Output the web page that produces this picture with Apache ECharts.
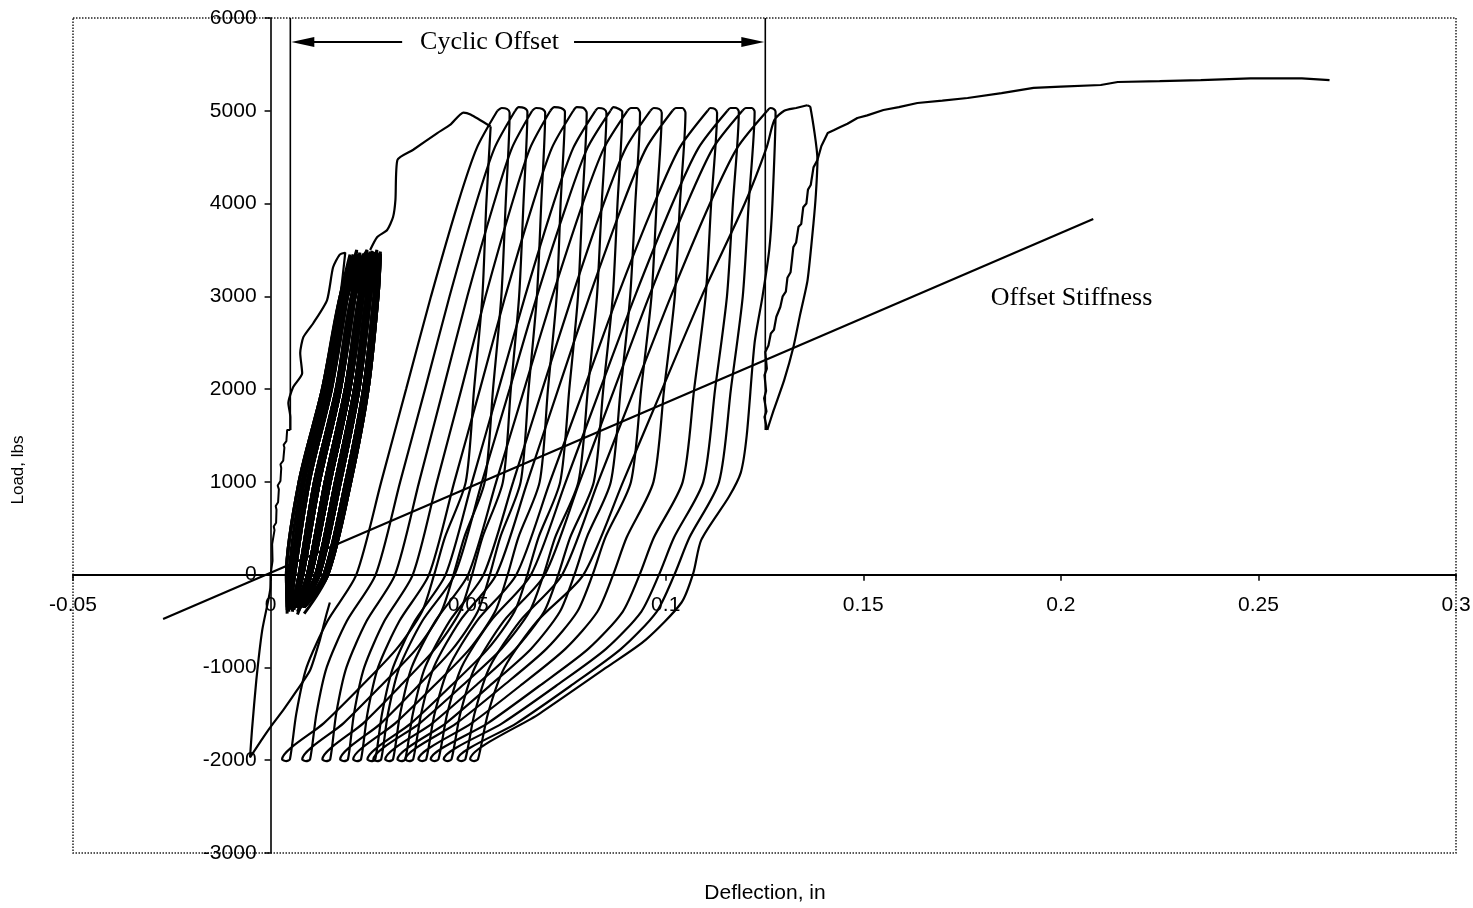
<!DOCTYPE html>
<html>
<head>
<meta charset="utf-8">
<script src="https://cdn.jsdelivr.net/npm/echarts@6/dist/echarts.min.js"></script>
<style>
  html, body { margin: 0; padding: 0; background: #fff; }
  #chart { width: 1473px; height: 908px; }
</style>
</head>
<body>
<div id="chart"></div>
<script>
// axis ranges / ticks
const xMin = -0.05, xMax = 0.3, xStep = 0.05;
const yMin = -3000, yMax = 6000, yStep = 1000;

// first push to the negative side, then back toward the cluster
const firstNegative = [[0,0],[-0.0001,-165],[-0.0021,-595],[-0.0036,-1135],[-0.0047,-1670],[-0.0052,-1970],
  [-0.0018,-1750],[0.0007,-1600],[0.0032,-1460],[0.0067,-1245],[0.0100,-1030],[0.0125,-700],[0.0140,-450],[0.0150,-300]];

// noisy initial loading near the axis
const initialJagged = [[0,0],[0.0005,150],[0.0004,330],[0.0009,350],[0.0010,480],[0.0008,520],[0.0014,560],[0.0015,700],
  [0.0013,740],[0.0019,780],[0.0021,920],[0.0018,960],[0.0025,1010],[0.0027,1150],[0.0025,1190],[0.0032,1230],
  [0.0035,1370],[0.0033,1400],[0.0040,1440],[0.0042,1560],[0.0050,1560]];

const initialLoad = [[0.0050,1560],[0.0050,1700],[0.0045,1850],[0.0057,2020],[0.0080,2170],[0.0075,2390],[0.0083,2560],
  [0.0108,2710],[0.0143,2960],[0.0158,3310],[0.0175,3450],[0.0189,3470],[0.0176,3000],[0.0131,2000],[0.0072,1000],[0.0040,0],[0.0042,-350]];

// small cycles (dense band)
const clusterLoops = [
  [[0.0064,-350],[0.0093,0],[0.0138,1000],[0.0189,2000],[0.0224,3000],[0.0235,3450],[0.0205,3000],[0.0166,2000],[0.0111,1000],[0.0072,0],[0.0055,-350]],
  [[0.0072,-350],[0.0114,0],[0.0164,1000],[0.0212,2000],[0.0243,3000],[0.0252,3480],[0.0214,3000],[0.0177,2000],[0.0124,1000],[0.0082,0],[0.0059,-350]],
  [[0.0076,-350],[0.0124,0],[0.0177,1000],[0.0224,2000],[0.0253,3000],[0.0261,3450],[0.0234,3000],[0.0201,2000],[0.0151,1000],[0.0103,0],[0.0068,-350]],
  [[0.0081,-350],[0.0135,0],[0.0190,1000],[0.0235,2000],[0.0262,3000],[0.0269,3500],[0.0243,3000],[0.0212,2000],[0.0164,1000],[0.0114,0],[0.0072,-350]],
  [[0.0085,-350],[0.0145,0],[0.0203,1000],[0.0247,2000],[0.0272,3000],[0.0278,3450],[0.0253,3000],[0.0224,2000],[0.0177,1000],[0.0124,0],[0.0076,-350]],
  [[0.0081,-350],[0.0135,0],[0.0190,1000],[0.0235,2000],[0.0262,3000],[0.0269,3450],[0.0234,3000],[0.0201,2000],[0.0151,1000],[0.0103,0],[0.0068,-350]],
  [[0.0076,-350],[0.0124,0],[0.0177,1000],[0.0224,2000],[0.0253,3000],[0.0261,3450],[0.0224,3000],[0.0189,2000],[0.0138,1000],[0.0093,0],[0.0064,-350]],
  [[0.0068,-350],[0.0103,0],[0.0151,1000],[0.0201,2000],[0.0234,3000],[0.0244,3500],[0.0195,3000],[0.0154,2000],[0.0098,1000],[0.0061,0],[0.0051,-350]],
  [[0.0059,-350],[0.0082,0],[0.0124,1000],[0.0177,2000],[0.0214,3000],[0.0226,3450],[0.0186,3000],[0.0143,2000],[0.0085,1000],[0.0051,0],[0.0046,-350]],
  [[0.0064,-350],[0.0093,0],[0.0138,1000],[0.0189,2000],[0.0224,3000],[0.0235,3450],[0.0195,3000],[0.0154,2000],[0.0098,1000],[0.0061,0],[0.0051,-350]],
  [[0.0072,-350],[0.0114,0],[0.0164,1000],[0.0212,2000],[0.0243,3000],[0.0252,3450],[0.0224,3000],[0.0189,2000],[0.0138,1000],[0.0093,0],[0.0064,-350]],
  [[0.0085,-350],[0.0145,0],[0.0203,1000],[0.0247,2000],[0.0272,3000],[0.0278,3460],[0.0262,3000],[0.0235,2000],[0.0190,1000],[0.0135,0],[0.0081,-350]],
  [[0.0068,-350],[0.0103,0],[0.0151,1000],[0.0201,2000],[0.0234,3000],[0.0244,3450],[0.0205,3000],[0.0166,2000],[0.0111,1000],[0.0072,0],[0.0055,-350]],
  [[0.0055,-350],[0.0072,0],[0.0111,1000],[0.0166,2000],[0.0205,3000],[0.0218,3450],[0.0176,3000],[0.0131,2000],[0.0072,1000],[0.0040,0],[0.0042,-350]],
  [[0.0081,-350],[0.0135,0],[0.0190,1000],[0.0235,2000],[0.0262,3000],[0.0269,3450],[0.0214,3000],[0.0177,2000],[0.0124,1000],[0.0082,0],[0.0059,-350]],
  [[0.0051,-380],[0.0061,0],[0.0098,1000],[0.0154,2000],[0.0195,3000],[0.0209,3450],[0.0176,3000],[0.0131,2000],[0.0072,1000],[0.0040,0],[0.0042,-420]],
  [[0.0059,-350],[0.0082,0],[0.0124,1000],[0.0177,2000],[0.0214,3000],[0.0226,3470],[0.0195,3000],[0.0154,2000],[0.0098,1000],[0.0061,0],[0.0051,-350]],
  [[0.0068,-400],[0.0103,0],[0.0151,1000],[0.0201,2000],[0.0234,3000],[0.0244,3450],[0.0214,3000],[0.0177,2000],[0.0124,1000],[0.0082,0],[0.0059,-380]],
  [[0.0076,-350],[0.0124,0],[0.0177,1000],[0.0224,2000],[0.0253,3000],[0.0261,3480],[0.0243,3000],[0.0212,2000],[0.0164,1000],[0.0114,0],[0.0072,-350]],
  [[0.0085,-420],[0.0145,0],[0.0203,1000],[0.0247,2000],[0.0272,3000],[0.0278,3450],[0.0234,3000],[0.0201,2000],[0.0151,1000],[0.0103,0],[0.0068,-430]],
  [[0.0055,-350],[0.0072,0],[0.0111,1000],[0.0166,2000],[0.0205,3000],[0.0218,3500],[0.0186,3000],[0.0143,2000],[0.0085,1000],[0.0051,0],[0.0046,-350]],
  [[0.0072,-380],[0.0114,0],[0.0164,1000],[0.0212,2000],[0.0243,3000],[0.0252,3450],[0.0205,3000],[0.0166,2000],[0.0111,1000],[0.0072,0],[0.0055,-400]],
  [[0.0081,-350],[0.0135,0],[0.0190,1000],[0.0235,2000],[0.0262,3000],[0.0269,3450],[0.0253,3000],[0.0224,2000],[0.0177,1000],[0.0124,0],[0.0076,-350]],
  [[0.0064,-350],[0.0093,0],[0.0138,1000],[0.0189,2000],[0.0224,3000],[0.0235,3460],[0.0214,3000],[0.0177,2000],[0.0124,1000],[0.0082,0],[0.0059,-350]],
  [[0.0046,-400],[0.0051,0],[0.0085,1000],[0.0143,2000],[0.0186,3000],[0.0201,3450],[0.0176,3000],[0.0131,2000],[0.0072,1000],[0.0040,0],[0.0042,-380]],
  [[0.0085,-350],[0.0145,0],[0.0203,1000],[0.0247,2000],[0.0272,3000],[0.0278,3480],[0.0243,3000],[0.0212,2000],[0.0164,1000],[0.0114,0],[0.0072,-350]],
  [[0.0068,-350],[0.0103,0],[0.0151,1000],[0.0201,2000],[0.0234,3000],[0.0244,3450],[0.0224,3000],[0.0189,2000],[0.0138,1000],[0.0093,0],[0.0064,-350]],
  [[0.0083,-350],[0.0140,0],[0.0197,1000],[0.0241,2000],[0.0267,3000],[0.0274,3460],[0.0229,3000],[0.0195,2000],[0.0145,1000],[0.0098,0],[0.0066,-350]],
  [[0.0074,-350],[0.0119,0],[0.0171,1000],[0.0218,2000],[0.0248,3000],[0.0257,3450],[0.0210,3000],[0.0172,2000],[0.0118,1000],[0.0077,0],[0.0057,-350]],
  [[0.0066,-350],[0.0098,0],[0.0145,1000],[0.0195,2000],[0.0229,3000],[0.0240,3470],[0.0191,3000],[0.0149,2000],[0.0092,1000],[0.0056,0],[0.0049,-350]],
  [[0.0057,-350],[0.0077,0],[0.0118,1000],[0.0172,2000],[0.0210,3000],[0.0222,3450],[0.0181,3000],[0.0137,2000],[0.0079,1000],[0.0046,0],[0.0044,-350]],
  [[0.0083,-350],[0.0140,0],[0.0197,1000],[0.0241,2000],[0.0267,3000],[0.0274,3450],[0.0248,3000],[0.0218,2000],[0.0171,1000],[0.0119,0],[0.0074,-350]],
  [[0.0074,-350],[0.0119,0],[0.0171,1000],[0.0218,2000],[0.0248,3000],[0.0257,3490],[0.0229,3000],[0.0195,2000],[0.0145,1000],[0.0098,0],[0.0066,-350]]
];

// first large excursion out of the cluster
const firstBigLoad = [[0.0252,3500],[0.0270,3640],[0.0295,3715],[0.0310,3855],[0.0316,4040],[0.0321,4470],[0.0361,4580],
  [0.0422,4760],[0.0455,4850],[0.0488,4980],[0.0506,4960],[0.0557,4830]];

// large cycles: unload to -2000, reload to next peak
const cycles = [
  [[0.0557,4830],[0.0546,4000],[0.0536,3000],[0.0515,2000],[0.0494,1000],[0.0441,400],[0.0414,0],[0.0383,-400],[0.0319,-800],[0.0230,-1200],[0.0135,-1600],[0.0029,-1990],[0.0040,-2010],[0.0049,-1990],[0.0065,-1500],[0.0091,-1000],[0.0144,-500],[0.0217,0],[0.0280,1000],[0.0343,2000],[0.0406,3000],[0.0474,4000],[0.0522,4600],[0.0574,5000]],
  [[0.0574,5000],[0.0585,5030],[0.0598,5020],[0.0605,4980],[0.0595,4000],[0.0584,3000],[0.0563,2000],[0.0542,1000],[0.0490,400],[0.0463,0],[0.0432,-400],[0.0369,-800],[0.0279,-1200],[0.0185,-1600],[0.0080,-1990],[0.0090,-2010],[0.0100,-1990],[0.0116,-1500],[0.0142,-1000],[0.0193,-500],[0.0266,0],[0.0328,1000],[0.0391,2000],[0.0453,3000],[0.0520,4000],[0.0567,4600],[0.0619,5000]],
  [[0.0619,5000],[0.0628,5040],[0.0642,5030],[0.0650,4990],[0.0640,4000],[0.0629,3000],[0.0608,2000],[0.0588,1000],[0.0536,400],[0.0510,0],[0.0479,-400],[0.0416,-800],[0.0328,-1200],[0.0235,-1600],[0.0131,-1990],[0.0141,-2010],[0.0151,-1990],[0.0166,-1500],[0.0192,-1000],[0.0243,-500],[0.0315,0],[0.0376,1000],[0.0437,2000],[0.0498,3000],[0.0565,4000],[0.0611,4600],[0.0662,5000]],
  [[0.0662,5000],[0.0672,5030],[0.0688,5020],[0.0695,4980],[0.0685,4000],[0.0674,3000],[0.0653,2000],[0.0633,1000],[0.0581,400],[0.0555,0],[0.0524,-400],[0.0461,-800],[0.0373,-1200],[0.0280,-1600],[0.0176,-1990],[0.0186,-2010],[0.0196,-1990],[0.0211,-1500],[0.0237,-1000],[0.0288,-500],[0.0360,0],[0.0421,1000],[0.0483,2000],[0.0544,3000],[0.0611,4000],[0.0657,4600],[0.0708,5000]],
  [[0.0708,5000],[0.0718,5040],[0.0735,5030],[0.0745,4990],[0.0734,4000],[0.0724,3000],[0.0702,2000],[0.0681,1000],[0.0627,400],[0.0600,0],[0.0568,-400],[0.0504,-800],[0.0413,-1200],[0.0316,-1600],[0.0209,-1990],[0.0219,-2010],[0.0229,-1990],[0.0245,-1500],[0.0272,-1000],[0.0326,-500],[0.0401,0],[0.0465,1000],[0.0530,2000],[0.0594,3000],[0.0664,4000],[0.0712,4600],[0.0766,5000]],
  [[0.0766,5000],[0.0775,5040],[0.0792,5030],[0.0800,4980],[0.0789,4000],[0.0778,3000],[0.0756,2000],[0.0733,1000],[0.0678,400],[0.0650,0],[0.0617,-400],[0.0550,-800],[0.0456,-1200],[0.0356,-1600],[0.0245,-1990],[0.0255,-2010],[0.0265,-1990],[0.0282,-1500],[0.0310,-1000],[0.0365,-500],[0.0443,0],[0.0510,1000],[0.0577,2000],[0.0644,3000],[0.0716,4000],[0.0766,4600],[0.0822,5000]],
  [[0.0822,5000],[0.0830,5030],[0.0843,5020],[0.0850,4980],[0.0838,4000],[0.0826,3000],[0.0803,2000],[0.0779,1000],[0.0720,400],[0.0691,0],[0.0655,-400],[0.0584,-800],[0.0484,-1200],[0.0378,-1600],[0.0260,-1990],[0.0270,-2010],[0.0280,-1990],[0.0297,-1500],[0.0326,-1000],[0.0384,-500],[0.0466,0],[0.0535,1000],[0.0605,2000],[0.0674,3000],[0.0750,4000],[0.0802,4600],[0.0860,5000]],
  [[0.0860,5000],[0.0868,5040],[0.0882,5020],[0.0890,4990],[0.0878,4000],[0.0866,3000],[0.0842,2000],[0.0818,1000],[0.0758,400],[0.0728,0],[0.0692,-400],[0.0620,-800],[0.0518,-1200],[0.0410,-1600],[0.0290,-1990],[0.0300,-2010],[0.0310,-1990],[0.0328,-1500],[0.0357,-1000],[0.0417,-500],[0.0500,0],[0.0571,1000],[0.0642,2000],[0.0713,3000],[0.0790,4000],[0.0844,4600],[0.0903,5000]],
  [[0.0903,5000],[0.0912,5030],[0.0927,5030],[0.0935,4980],[0.0923,4000],[0.0910,3000],[0.0886,2000],[0.0861,1000],[0.0800,400],[0.0769,0],[0.0732,-400],[0.0659,-800],[0.0554,-1200],[0.0444,-1600],[0.0321,-1990],[0.0331,-2010],[0.0341,-1990],[0.0360,-1500],[0.0391,-1000],[0.0453,-500],[0.0539,0],[0.0614,1000],[0.0688,2000],[0.0763,3000],[0.0843,4000],[0.0899,4600],[0.0961,5000]],
  [[0.0961,5000],[0.0970,5030],[0.0983,5020],[0.0990,4980],[0.0977,4000],[0.0964,3000],[0.0938,2000],[0.0912,1000],[0.0847,400],[0.0815,0],[0.0776,-400],[0.0698,-800],[0.0588,-1200],[0.0471,-1600],[0.0341,-1990],[0.0351,-2010],[0.0361,-1990],[0.0381,-1500],[0.0413,-1000],[0.0479,-500],[0.0571,0],[0.0650,1000],[0.0728,2000],[0.0807,3000],[0.0892,4000],[0.0951,4600],[0.1017,5000]],
  [[0.1017,5000],[0.1026,5030],[0.1042,5030],[0.1050,4980],[0.1036,4000],[0.1023,3000],[0.0996,2000],[0.0969,1000],[0.0901,400],[0.0867,0],[0.0827,-400],[0.0746,-800],[0.0631,-1200],[0.0509,-1600],[0.0374,-1990],[0.0384,-2010],[0.0394,-1990],[0.0415,-1500],[0.0451,-1000],[0.0522,-500],[0.0622,0],[0.0707,1000],[0.0793,2000],[0.0878,3000],[0.0971,4000],[0.1035,4600],[0.1106,5000]],
  [[0.1106,5000],[0.1113,5030],[0.1124,5020],[0.1130,4980],[0.1115,4000],[0.1101,3000],[0.1072,2000],[0.1043,1000],[0.0970,400],[0.0934,0],[0.0891,-400],[0.0804,-800],[0.0680,-1200],[0.0550,-1600],[0.0405,-1990],[0.0415,-2010],[0.0425,-1990],[0.0447,-1500],[0.0483,-1000],[0.0557,-500],[0.0659,0],[0.0747,1000],[0.0834,2000],[0.0922,3000],[0.1017,4000],[0.1083,4600],[0.1156,5000]],
  [[0.1156,5000],[0.1164,5030],[0.1178,5030],[0.1185,4990],[0.1170,4000],[0.1155,3000],[0.1125,2000],[0.1095,1000],[0.1021,400],[0.0983,0],[0.0938,-400],[0.0849,-800],[0.0722,-1200],[0.0587,-1600],[0.0438,-1990],[0.0448,-2010],[0.0458,-1990],[0.0480,-1500],[0.0517,-1000],[0.0590,-500],[0.0694,0],[0.0782,1000],[0.0870,2000],[0.0958,3000],[0.1054,4000],[0.1120,4600],[0.1194,5000]],
  [[0.1194,5000],[0.1203,5030],[0.1218,5030],[0.1225,4990],[0.1210,4000],[0.1195,3000],[0.1165,2000],[0.1135,1000],[0.1060,400],[0.1022,0],[0.0977,-400],[0.0887,-800],[0.0759,-1200],[0.0623,-1600],[0.0473,-1990],[0.0483,-2010],[0.0493,-1990],[0.0516,-1500],[0.0554,-1000],[0.0631,-500],[0.0738,0],[0.0829,1000],[0.0921,2000],[0.1013,3000],[0.1112,4000],[0.1181,4600],[0.1257,5000]],
  [[0.1257,5000],[0.1265,5030],[0.1273,5020],[0.1278,4990],[0.1270,4000],[0.1262,3500],[0.1245,3000],[0.1225,2500],[0.1205,1500],[0.1190,1100],[0.1160,840],[0.1090,375],[0.1070,20],[0.1040,-300],[0.0950,-700],[0.0850,-1000],[0.0680,-1500],[0.0505,-1990],[0.0515,-2010],[0.0525,-1990],[0.0550,-1500],[0.0592,-1000],[0.0675,-500],[0.0792,0],[0.0892,1000],[0.0991,2000],[0.1091,3000],[0.1200,4000],[0.1255,4600],[0.1275,4900],[0.1300,5000],[0.1330,5030],[0.1358,5060]]
];

const finalUnload = [[0.1358,5060],[0.1366,5040],[0.1384,4470],[0.1380,4100],[0.1374,3790],[0.1359,3175],[0.1340,2800],
  [0.1323,2450],[0.1300,2100],[0.1273,1770],[0.1257,1560]];

// noisy reload and monotonic push to failure
const finalCurve = [[0.1257,1560],[0.1250,1700],[0.1255,1760],[0.1249,1900],[0.1254,1980],[0.1250,2150],[0.1256,2220],
  [0.1252,2400],[0.1260,2470],[0.1266,2600],[0.1274,2640],[0.1280,2780],[0.1290,2885],[0.1296,3000],[0.1304,3050],
  [0.1308,3200],[0.1316,3260],[0.1323,3530],[0.1330,3580],[0.1336,3750],[0.1343,3780],[0.1348,3960],[0.1356,4000],
  [0.1360,4150],[0.1367,4200],[0.1374,4390],[0.1384,4470],[0.1394,4620],[0.1410,4760],[0.1425,4790],[0.1442,4825],
  [0.1460,4860],[0.1485,4922],[0.1510,4950],[0.1551,5008],[0.1590,5040],[0.1637,5084],[0.1700,5110],[0.1764,5138],
  [0.1850,5190],[0.1931,5246],[0.2000,5260],[0.2101,5278],[0.2144,5310],[0.2250,5320],[0.2354,5331],[0.2480,5350],
  [0.2610,5350],[0.2680,5330]];

const stiffnessLine = [[-0.0272,-478],[0.2082,3834]];
const offsetLeft = [[0.0050,1560],[0.0050,6000]];
const offsetRight = [[0.1252,1560],[0.1252,6000]];
const arrowY = 5740;

function path(points, width, smooth) {
  return {
    type: 'line',
    data: points,
    symbol: 'none',
    smooth: smooth || false,
    lineStyle: { color: '#000', width: width },
    silent: true,
    animation: false
  };
}

const chart = echarts.init(document.getElementById('chart'), null, { renderer: 'canvas' });

const series = [];
series.push(path(firstNegative, 2.2, 0.2));
series.push(path(initialJagged, 2));
series.push(path(initialLoad, 2.2, 0.2));
clusterLoops.forEach(function (loop) { series.push(path(loop, 3, 0.3)); });
series.push(path(firstBigLoad, 2.2, 0.2));
cycles.forEach(function (c) { series.push(path(c, 2.2, 0.25)); });
series.push(path(finalUnload, 2.2, 0.2));
series.push(path(finalCurve, 2.2));
series.push(path(stiffnessLine, 2.2));
series.push(path(offsetLeft, 1.6));
series.push(path(offsetRight, 1.6));

const labelFont = { color: '#000', fontFamily: 'Liberation Sans, Arial, sans-serif', fontSize: 21 };

// grid is 73..1456 x 18..853; the axes sit on the zero lines
const gridH = 835, gridW = 1383;
const xAxisOffset = -gridH * (0 - yMin) / (yMax - yMin);
const yAxisOffset = -gridW * (0 - xMin) / (xMax - xMin);

chart.setOption({
  backgroundColor: '#fff',
  animation: false,
  grid: { left: 73, right: 17, top: 18, bottom: 55, outerBoundsMode: 'none' },
  xAxis: {
    type: 'value', min: xMin, max: xMax, interval: xStep,
    offset: xAxisOffset,
    axisLine: { onZero: false, lineStyle: { color: '#000', width: 2 } },
    axisTick: { show: true, length: 6, lineStyle: { color: '#000', width: 1.5 } },
    splitLine: { show: false },
    axisLabel: Object.assign({ margin: 20, formatter: function (v) { return String(+v.toFixed(2)); } }, labelFont)
  },
  yAxis: {
    type: 'value', min: yMin, max: yMax, interval: yStep,
    offset: yAxisOffset,
    axisLine: { onZero: false, lineStyle: { color: '#000', width: 1.6 } },
    axisTick: { show: true, length: 6, lineStyle: { color: '#000', width: 1.5 } },
    splitLine: { show: false },
    axisLabel: Object.assign({ margin: 14, formatter: function (v) { return String(v); } }, labelFont)
  },
  series: series
});

// annotations placed from data coordinates
const px = function (x, y) { return chart.convertToPixel({ gridIndex: 0 }, [x, y]); };
const aL = px(0.0050, arrowY), aLend = px(0.0333, arrowY);
const aR = px(0.1252, arrowY), aRstart = px(0.0768, arrowY);
const cyc = px(0.0554, arrowY);
const stiff = px(0.2027, 2982);

chart.setOption({
  graphic: [
    { type: 'rect', silent: true, shape: { x: 73, y: 18, width: 1383, height: 835 },
      style: { fill: null, stroke: '#222', lineWidth: 1.5, lineDash: [1.5, 1.5] } },
    { type: 'line', shape: { x1: aL[0] + 20, y1: aL[1], x2: aLend[0], y2: aLend[1] }, style: { stroke: '#000', lineWidth: 2 } },
    { type: 'polygon', shape: { points: [[aL[0] + 1, aL[1]], [aL[0] + 24, aL[1] - 5], [aL[0] + 24, aL[1] + 5]] }, style: { fill: '#000' } },
    { type: 'line', shape: { x1: aRstart[0], y1: aRstart[1], x2: aR[0] - 20, y2: aR[1] }, style: { stroke: '#000', lineWidth: 2 } },
    { type: 'polygon', shape: { points: [[aR[0] - 1, aR[1]], [aR[0] - 24, aR[1] - 5], [aR[0] - 24, aR[1] + 5]] }, style: { fill: '#000' } },
    { type: 'text', x: cyc[0], y: cyc[1], style: { text: 'Cyclic Offset', fill: '#000', font: '26px "Liberation Serif", "Times New Roman", serif', textAlign: 'center', textVerticalAlign: 'middle' } },
    { type: 'text', x: stiff[0], y: stiff[1], style: { text: 'Offset Stiffness', fill: '#000', font: '26px "Liberation Serif", "Times New Roman", serif', textAlign: 'center', textVerticalAlign: 'middle' } },
    { type: 'text', x: 18, y: 470, rotation: Math.PI / 2, style: { text: 'Load, lbs', fill: '#000', font: '17px "Liberation Sans", Arial, sans-serif', textAlign: 'center', textVerticalAlign: 'middle' } },
    { type: 'text', x: 765, y: 893, style: { text: 'Deflection, in', fill: '#000', font: '21px "Liberation Sans", Arial, sans-serif', textAlign: 'center', textVerticalAlign: 'middle' } }
  ]
});
</script>
</body>
</html>
